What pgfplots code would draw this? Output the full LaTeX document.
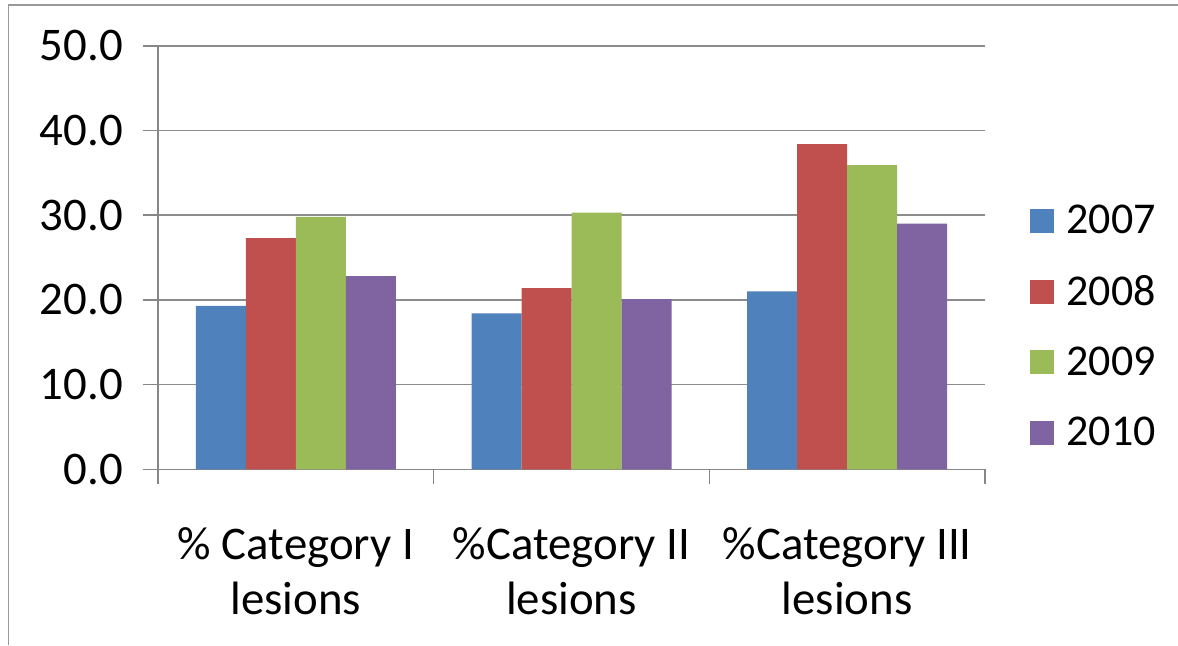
\documentclass[border=0pt]{standalone}
\usepackage{fontspec}
\setmainfont{Carlito}
\usepackage{pgfplots}
\pgfplotsset{compat=1.18}
\definecolor{c07}{HTML}{4F81BD}
\definecolor{c08}{HTML}{C0504D}
\definecolor{c09}{HTML}{9BBB59}
\definecolor{c10}{HTML}{8064A2}
\definecolor{axisgray}{HTML}{868686}
\definecolor{gridgray}{HTML}{8C8C8C}
\begin{document}
\begin{tikzpicture}
\path[use as bounding box] (0pt,0pt) rectangle (589pt,322.5pt);
\draw[gray!80, line width=0.9pt] (4.2pt,0pt) -- (4.2pt,320.2pt) -- (589pt,320.2pt);
\begin{axis}[
  at={(79pt,87.85pt)}, anchor=south west,
  scale only axis, width=413.5pt, height=211.75pt,
  xmin=-0.5, xmax=2.5, ymin=0, ymax=50,
  xtick={0,1,2},
  xticklabels={{\% Category I\\lesions},{\%Category II\\lesions},{\%Category III\\lesions}},
  minor xtick={-0.5,0.5,1.5,2.5},
  ytick={0,10,...,50},
  axis lines*=left,
  axis line style={color=axisgray, line width=0.8pt},
  ymajorgrids, grid style={color=gridgray, line width=0.8pt},
  tick align=outside, major tick length=7.5pt, minor tick length=7.5pt,
  tick style={color=axisgray, line width=0.8pt},
  major x tick style={draw=none},
  /pgf/number format/assume math mode=true,
  yticklabel style={/pgf/number format/fixed, /pgf/number format/fixed zerofill,
    /pgf/number format/precision=1, xshift=-6.5pt},
  tick label style={font=\fontsize{23.4}{27.5}\selectfont, text=black},
  xticklabel style={align=center, yshift=-18pt},
  ybar=0pt, bar width=25pt,
  legend cell align=left,
  legend style={at={(rel axis cs:1.0544,0.337)}, anchor=west, draw=none, fill=none,
    inner sep=0pt, row sep=15.3pt, font=\fontsize{22}{25}\selectfont,
    /tikz/every odd column/.append style={column sep=4pt}},
  legend image code/.code={\fill[#1] (0pt,-6pt) rectangle (12pt,6pt);},
]
\addplot[fill=c07, draw=none] coordinates {(0,19.3) (1,18.4) (2,21.0)};
\addplot[fill=c08, draw=none] coordinates {(0,27.3) (1,21.4) (2,38.4)};
\addplot[fill=c09, draw=none] coordinates {(0,29.8) (1,30.3) (2,35.9)};
\addplot[fill=c10, draw=none] coordinates {(0,22.8) (1,20.1) (2,29.0)};
\legend{2007,2008,2009,2010}
\end{axis}
\end{tikzpicture}
\end{document}
